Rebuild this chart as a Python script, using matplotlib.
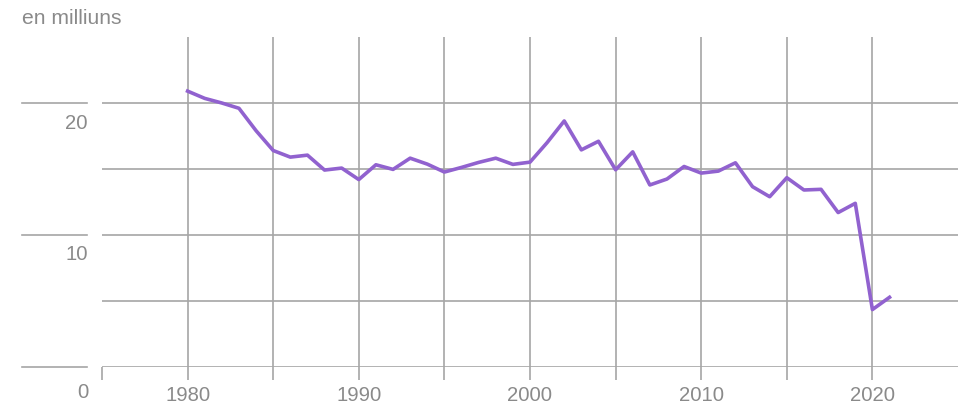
import matplotlib
matplotlib.use("Agg")
import matplotlib.pyplot as plt
import matplotlib.transforms as mtransforms

plt.rcParams["font.family"] = ["Liberation Sans", "DejaVu Sans"]

years = list(range(1980, 2022))
values = [20.9, 20.35, 20.0, 19.6, 17.9, 16.4, 15.9, 16.05, 14.92, 15.07,
          14.2, 15.32, 14.97, 15.82, 15.37, 14.77, 15.12, 15.5, 15.82, 15.35,
          15.52, 17.0, 18.64, 16.45, 17.1, 14.94, 16.3, 13.79, 14.24, 15.19,
          14.69, 14.84, 15.47, 13.66, 12.9, 14.34, 13.41, 13.46, 11.7, 12.4,
          4.35, 5.28]
y_grid = [0, 5, 10, 15, 20]
y_labeled = [0, 10, 20]
x_ticks = list(range(1975, 2021, 5))
x_labels = [str(y) if y % 10 == 0 else "" for y in x_ticks]
unit_label = "en milliuns"

GRID = "#a6a6a6"
TEXT = "#8a8a8a"
LINE = "#9162cf"
FS = 14.6

fig = plt.figure(figsize=(9.66, 4.05), dpi=100)
ax = fig.add_axes([102 / 966, 38 / 405, 856 / 966, 330 / 405])
ax.set_xlim(1975, 2025)
ax.set_ylim(0, 25)
for s in ax.spines.values():
    s.set_visible(False)

ax.set_xticks(x_ticks)
ax.set_xticklabels(x_labels)
ax.tick_params(axis="x", length=9.5, width=1.2, color=GRID, pad=4,
               labelsize=FS, labelcolor=TEXT)
ax.set_yticks([])

for v in y_grid:
    ax.axhline(v, color=GRID, lw=1.2, zorder=1)
for yr in x_ticks[1:]:
    ax.axvline(yr, color=GRID, lw=1.2, zorder=1)

trans = mtransforms.blended_transform_factory(ax.transAxes, ax.transData)
for v in y_labeled:
    ax.plot([-80 / 856, -15 / 856], [v, v], color=GRID, lw=1.2,
            transform=trans, clip_on=False)
    off = -18.7 if v == 0 else -14.4
    ax.annotate(str(v), xy=(-14 / 856, v), xycoords=trans,
                xytext=(0, off), textcoords="offset points",
                ha="right", va="center", fontsize=FS, color=TEXT)

ax.plot(years, values, color=LINE, lw=2.6, zorder=3, clip_on=False)

fig.text(22 / 966, 1 - 18.5 / 405, unit_label, ha="left", va="center",
         fontsize=15.2, color=TEXT)

fig.savefig("out.png", dpi=100)
